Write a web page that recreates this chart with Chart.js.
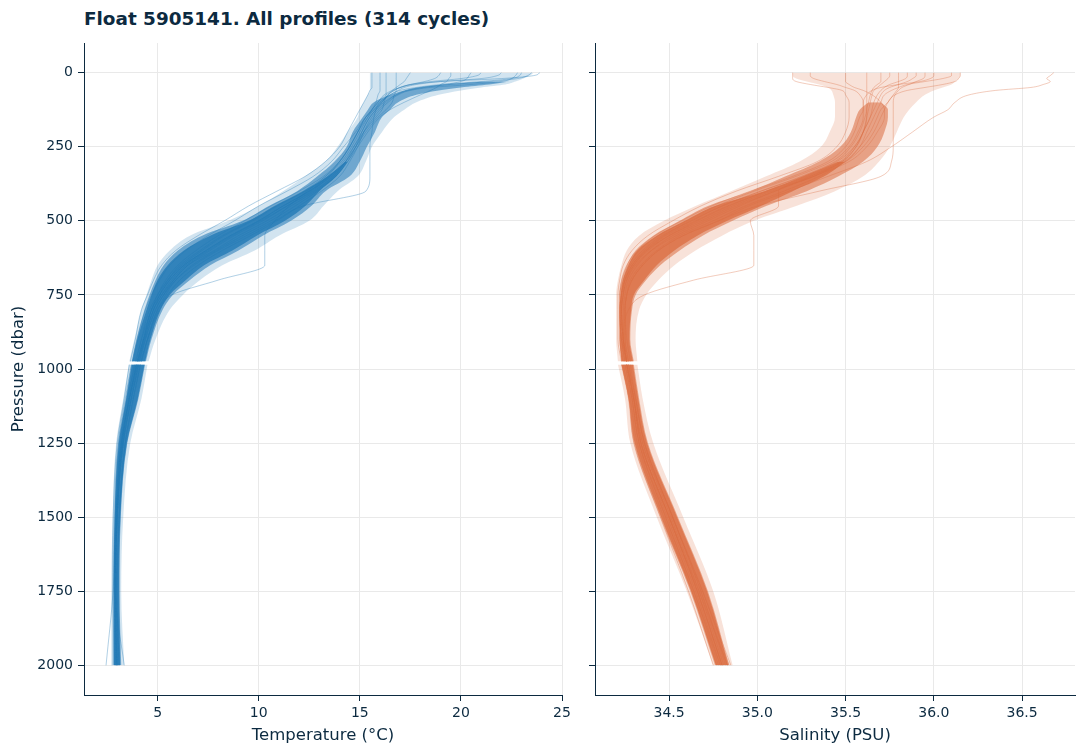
<!DOCTYPE html>
<html>
<head>
<meta charset="utf-8">
<script src="https://cdn.jsdelivr.net/npm/chart.js@4.4.0/dist/chart.umd.min.js"></script>
<style>
  html, body { margin: 0; padding: 0; background: #fff; }
  #wrap { position: relative; width: 1085px; height: 755px; }
  #title { position: absolute; left: 84px; top: 10px; font: bold 18.4px "DejaVu Sans"; line-height: 18px; color: #0c2a40; white-space: nowrap; }
  canvas { position: absolute; top: 0; }
</style>
</head>
<body>
<div id="wrap">
  <div id="title">Float 5905141. All profiles (314 cycles)</div>
  <canvas id="tempChart" style="left:0px;width:575px;height:755px" width="575" height="755"></canvas>
  <canvas id="salChart" style="left:575px;width:510px;height:755px" width="510" height="755"></canvas>
</div>
<script>
// Pressure levels (dbar) the profiles were read at; 980 is the gap in the data.
const pressureLevels = [0, 10, 20, 30, 40, 50, 60, 75, 100, 125, 150, 200, 250, 300, 350, 400, 450, 500, 550, 600,
  650, 700, 750, 800, 900, 975, 980, 985, 1100, 1250, 1500, 1750, 2000];

const pressureTicks = [0, 250, 500, 750, 1000, 1250, 1500, 1750, 2000];
const tempTicks = [5, 10, 15, 20, 25];
const salinityTicks = [34.5, 35.0, 35.5, 36.0, 36.5];

// Temperature (°C), a sample of single cycles
const tempProf01 = [23.5, 23.3, 22.8, 21.5, 19.5, 18.2, 17.4, 16.8, 16.2, 15.8, 15.5, 15.1, 14.8, 14.4, 13.8, 12.8, 11.6, 10.4, 9.0, 7.8, 6.5, 5.8, 5.3, 4.9, 4.4, 4.1, null, 4.05, 3.7, 3.3, 3.0, 2.95, 3.0];
const tempProf02 = [16.0, 16.0, 16.0, 16.0, 16.0, 16.0, 16.0, 15.9, 15.8, 15.6, 15.4, 15.0, 14.6, 14.1, 13.3, 12.2, 10.8, 9.6, 8.2, 7.1, 6.1, 5.5, 5.0, 4.7, 4.2, 3.9, null, 3.85, 3.55, 3.2, 2.95, 2.9, 2.95];
const tempProf03 = [22.0, 21.8, 21.0, 19.0, 17.8, 17.2, 16.9, 16.5, 16.0, 15.7, 15.4, 14.9, 14.5, 14.0, 13.2, 12.0, 10.6, 9.3, 8.0, 6.9, 6.0, 5.4, 5.0, 4.6, 4.2, 3.95, null, 3.9, 3.5, 3.15, 2.9, 2.85, 2.9];
const tempProf04 = [20.5, 20.4, 20.3, 20.0, 19.2, 18.0, 17.3, 16.8, 16.3, 15.9, 15.6, 15.2, 14.9, 14.5, 14.0, 13.1, 12.0, 10.9, 9.6, 8.2, 7.0, 6.1, 5.5, 5.0, 4.5, 4.2, null, 4.15, 3.8, 3.4, 3.1, 3.0, 3.1];
const tempProf05 = [17.5, 17.4, 17.3, 17.2, 17.0, 16.8, 16.6, 16.4, 16.1, 15.7, 15.3, 14.8, 14.2, 13.6, 12.7, 11.4, 10.0, 8.8, 7.5, 6.4, 5.6, 5.1, 4.7, 4.4, 4.0, 3.75, null, 3.7, 3.4, 3.05, 2.85, 2.8, 2.85];
const tempProf06 = [23.0, 22.9, 22.5, 21.0, 19.0, 17.8, 17.0, 16.5, 16.0, 15.8, 15.7, 15.6, 15.5, 15.5, 15.5, 15.3, 12.2, 10.8, 9.4, 8.0, 6.8, 5.9, 5.4, 5.0, 4.5, 4.2, null, 4.15, 3.8, 3.4, 3.1, 3.0, 3.05];
const tempProf07 = [21.0, 20.8, 20.0, 18.5, 17.5, 17.0, 16.7, 16.3, 15.9, 15.6, 15.3, 14.9, 14.5, 14.0, 13.3, 12.4, 11.5, 10.8, 10.3, 10.3, 10.3, 8.0, 5.7, 5.1, 4.5, 4.15, null, 4.1, 3.7, 3.3, 3.0, 2.95, 3.0];
const tempProf08 = [15.6, 15.6, 15.6, 15.6, 15.6, 15.6, 15.5, 15.4, 15.2, 15.0, 14.8, 14.4, 14.0, 13.3, 12.3, 10.9, 9.5, 8.3, 7.0, 5.9, 5.2, 4.8, 4.5, 4.2, 3.9, 3.65, null, 3.6, 3.35, 3.0, 2.8, 2.75, 2.75];
const tempProf09 = [19.0, 18.9, 18.7, 18.2, 17.5, 17.0, 16.6, 16.2, 15.9, 15.6, 15.3, 14.9, 14.5, 14.0, 13.4, 12.5, 11.2, 10.0, 8.6, 7.4, 6.3, 5.6, 5.1, 4.7, 4.3, 4.0, null, 3.95, 3.6, 3.2, 2.95, 2.8, 2.45];
const tempProf10 = [23.9, 23.6, 22.0, 19.0, 17.6, 17.0, 16.7, 16.4, 16.1, 15.8, 15.5, 15.1, 14.7, 14.3, 13.7, 12.7, 11.4, 10.1, 8.7, 7.5, 6.4, 5.7, 5.2, 4.8, 4.35, 4.05, null, 4.0, 3.65, 3.25, 3.0, 2.9, 3.35];
const tempProf11 = [16.8, 16.8, 16.8, 16.8, 16.8, 16.8, 16.8, 16.7, 16.6, 16.3, 15.9, 15.3, 14.8, 14.3, 13.6, 12.5, 11.2, 10.0, 8.6, 7.4, 6.3, 5.6, 5.1, 4.7, 4.3, 4.0, null, 3.95, 3.6, 3.2, 2.95, 2.9, 2.95];
const tempProf12 = [19.5, 19.5, 19.4, 19.3, 19.0, 18.8, 18.5, 18.0, 17.2, 16.5, 16.0, 15.4, 14.9, 14.4, 13.8, 12.9, 11.8, 10.6, 9.2, 7.9, 6.7, 5.9, 5.3, 4.9, 4.4, 4.1, null, 4.05, 3.7, 3.3, 3.0, 2.95, 3.1];
const tempProf13 = [22.8, 22.7, 22.5, 22.0, 20.5, 18.5, 17.5, 16.9, 16.4, 16.0, 15.7, 15.2, 14.8, 14.3, 13.5, 12.3, 10.9, 9.7, 8.3, 7.2, 6.2, 5.5, 5.1, 4.8, 4.35, 4.05, null, 4.0, 3.6, 3.25, 2.95, 2.9, 3.0];
const tempProf14 = [16.3, 16.3, 16.3, 16.3, 16.3, 16.3, 16.3, 16.3, 16.2, 16.1, 15.8, 15.2, 14.7, 14.2, 13.5, 12.6, 11.4, 10.2, 8.8, 7.6, 6.5, 5.8, 5.2, 4.8, 4.3, 4.0, null, 3.95, 3.6, 3.25, 3.0, 2.9, 2.95];

// Temperature envelopes: whole bundle, main core, densest part
const tempOuterLeft = [15.5, 15.5, 15.5, 15.5, 15.5, 15.5, 15.5, 15.4, 15.2, 15.0, 14.9, 14.4, 13.9, 13.3, 12.3, 11.2, 10.0, 8.5, 6.6, 5.6, 5.0, 4.7, 4.45, 4.2, 3.85, 3.6, null, 3.58, 3.3, 2.95, 2.78, 2.75, 2.75];
const tempOuterRight = [23.6, 23.4, 23.1, 22.7, 22.2, 21.0, 20.0, 18.9, 17.8, 17.2, 16.7, 16.1, 15.6, 15.3, 14.9, 13.9, 13.2, 12.5, 11.0, 9.8, 8.2, 7.1, 6.25, 5.6, 4.9, 4.55, null, 4.5, 4.2, 3.65, 3.3, 3.2, 3.35];
const tempCoreLeft = [null, null, null, 21.2, 19.2, 17.9, 17.2, 16.5, 15.7, 15.4, 15.15, 14.65, 14.35, 13.75, 12.9, 11.9, 10.5, 9.2, 7.2, 6.0, 5.3, 4.9, 4.6, 4.35, 3.95, 3.72, null, 3.7, 3.42, 3.05, 2.87, 2.82, 2.82];
const tempCoreRight = [null, null, null, 22.4, 21.4, 20.0, 18.9, 17.8, 16.9, 16.5, 16.1, 15.75, 15.35, 15.0, 14.5, 13.3, 12.6, 11.6, 10.2, 9.0, 7.6, 6.6, 5.75, 5.25, 4.7, 4.42, null, 4.38, 4.05, 3.5, 3.18, 3.12, 3.2];
const tempDenseLeft = [null, null, null, null, null, null, null, null, null, null, null, null, null, 14.3, 13.4, 12.2, 10.8, 9.5, 7.6, 6.3, 5.5, 5.0, 4.7, 4.45, 4.0, 3.75, null, 3.73, 3.45, 3.08, 2.88, 2.83, 2.83];
const tempDenseRight = [null, null, null, null, null, null, null, null, null, null, null, null, null, 14.4, 13.85, 13.0, 12.3, 11.3, 9.9, 8.7, 7.3, 6.4, 5.6, 5.15, 4.65, 4.38, null, 4.35, 4.02, 3.48, 3.16, 3.1, 3.15];

// Salinity (PSU), a sample of single cycles
const salProf01 = [35.85, 35.85, 35.84, 35.8, 35.75, 35.72, 35.7, 35.68, 35.66, 35.65, 35.64, 35.6, 35.56, 35.48, 35.3, 35.1, 34.88, 34.7, 34.52, 34.4, 34.32, 34.27, 34.25, 34.24, 34.24, 34.26, null, 34.26, 34.3, 34.34, 34.5, 34.66, 34.8];
const salProf02 = [35.62, 35.62, 35.62, 35.62, 35.62, 35.62, 35.62, 35.62, 35.62, 35.62, 35.61, 35.58, 35.53, 35.44, 35.25, 35.02, 34.8, 34.63, 34.46, 34.35, 34.28, 34.24, 34.23, 34.22, 34.23, 34.25, null, 34.25, 34.29, 34.33, 34.49, 34.65, 34.79];
const salProf03 = [36.1, 36.1, 36.05, 35.95, 35.85, 35.8, 35.76, 35.72, 35.7, 35.68, 35.66, 35.62, 35.58, 35.5, 35.35, 35.15, 34.93, 34.75, 34.56, 34.43, 34.34, 34.28, 34.26, 34.25, 34.25, 34.27, null, 34.27, 34.3, 34.35, 34.52, 34.68, 34.82];
const salProf04 = [35.3, 35.3, 35.32, 35.38, 35.45, 35.5, 35.55, 35.58, 35.6, 35.6, 35.6, 35.57, 35.52, 35.42, 35.22, 34.98, 34.77, 34.6, 34.44, 34.33, 34.27, 34.24, 34.22, 34.22, 34.22, 34.24, null, 34.24, 34.28, 34.32, 34.47, 34.63, 34.77];
const salProf05 = [36.68, 36.66, 36.64, 36.66, 36.62, 36.55, 36.35, 36.2, 36.12, 36.08, 36.0, 35.88, 35.76, 35.62, 35.4, 35.18, 34.95, 34.78, 34.58, 34.44, 34.35, 34.29, 34.26, 34.25, 34.26, 34.28, null, 34.28, 34.31, 34.36, 34.52, 34.68, 34.83];
const salProf06 = [35.95, 35.95, 35.94, 35.9, 35.86, 35.82, 35.8, 35.78, 35.77, 35.77, 35.77, 35.77, 35.77, 35.76, 35.7, 35.35, 35.0, 34.78, 34.58, 34.44, 34.35, 34.29, 34.26, 34.25, 34.25, 34.27, null, 34.27, 34.31, 34.36, 34.52, 34.69, 34.84];
const salProf07 = [35.75, 35.75, 35.74, 35.72, 35.7, 35.68, 35.66, 35.65, 35.64, 35.63, 35.62, 35.6, 35.56, 35.48, 35.32, 35.12, 35.12, 34.96, 34.98, 34.98, 34.98, 34.64, 34.36, 34.27, 34.24, 34.26, null, 34.26, 34.3, 34.34, 34.5, 34.66, 34.8];
const salProf08 = [35.2, 35.2, 35.2, 35.22, 35.3, 35.4, 35.48, 35.5, 35.52, 35.52, 35.52, 35.5, 35.45, 35.34, 35.12, 34.88, 34.68, 34.52, 34.38, 34.29, 34.24, 34.22, 34.21, 34.21, 34.21, 34.23, null, 34.23, 34.27, 34.3, 34.45, 34.61, 34.75];
const salProf09 = [36.0, 36.0, 35.98, 35.92, 35.8, 35.7, 35.65, 35.62, 35.6, 35.6, 35.58, 35.55, 35.5, 35.4, 35.2, 34.96, 34.74, 34.57, 34.42, 34.32, 34.26, 34.23, 34.22, 34.22, 34.23, 34.25, null, 34.25, 34.29, 34.33, 34.48, 34.64, 34.78];
const salProf10 = [35.7, 35.7, 35.7, 35.7, 35.68, 35.66, 35.65, 35.64, 35.63, 35.62, 35.62, 35.6, 35.55, 35.47, 35.28, 35.05, 34.84, 34.66, 34.5, 34.38, 34.3, 34.25, 34.24, 34.23, 34.24, 34.26, null, 34.26, 34.3, 34.34, 34.5, 34.66, 34.8];
const salProf11 = [35.5, 35.5, 35.5, 35.5, 35.52, 35.55, 35.6, 35.65, 35.7, 35.72, 35.72, 35.68, 35.62, 35.52, 35.32, 35.08, 34.86, 34.68, 34.5, 34.37, 34.29, 34.25, 34.23, 34.22, 34.23, 34.26, null, 34.26, 34.3, 34.34, 34.5, 34.67, 34.83];
const salProf12 = [36.15, 36.15, 36.14, 36.12, 36.05, 35.95, 35.85, 35.78, 35.74, 35.72, 35.7, 35.66, 35.6, 35.5, 35.32, 35.1, 34.9, 34.72, 34.54, 34.4, 34.31, 34.26, 34.24, 34.23, 34.24, 34.26, null, 34.27, 34.31, 34.36, 34.52, 34.69, 34.85];
const salProf13 = [35.9, 35.9, 35.88, 35.85, 35.8, 35.75, 35.72, 35.7, 35.68, 35.66, 35.64, 35.6, 35.55, 35.45, 35.26, 35.02, 34.8, 34.62, 34.47, 34.36, 34.29, 34.25, 34.23, 34.23, 34.24, 34.26, null, 34.26, 34.29, 34.33, 34.48, 34.64, 34.79];
const salProf14 = [35.8, 35.8, 35.8, 35.8, 35.8, 35.8, 35.79, 35.77, 35.74, 35.7, 35.68, 35.64, 35.58, 35.49, 35.3, 35.06, 34.83, 34.65, 34.48, 34.37, 34.3, 34.26, 34.24, 34.23, 34.24, 34.26, null, 34.26, 34.3, 34.35, 34.51, 34.67, 34.81];

// Salinity envelopes: whole bundle, main core, densest part
const salOuterLeft = [35.2, 35.2, 35.22, 35.28, 35.35, 35.4, 35.42, 35.43, 35.44, 35.44, 35.44, 35.41, 35.36, 35.24, 35.05, 34.85, 34.65, 34.47, 34.33, 34.26, 34.23, 34.21, 34.2, 34.2, 34.2, 34.21, null, 34.21, 34.25, 34.28, 34.43, 34.6, 34.75];
const salOuterRight = [36.15, 36.15, 36.14, 36.12, 36.1, 36.05, 36.0, 35.95, 35.9, 35.86, 35.83, 35.79, 35.75, 35.69, 35.6, 35.44, 35.22, 34.98, 34.8, 34.65, 34.53, 34.44, 34.37, 34.33, 34.31, 34.32, null, 34.32, 34.35, 34.41, 34.58, 34.75, 34.86];
const salCoreLeft = [null, null, null, null, null, null, null, null, 35.63, 35.58, 35.56, 35.53, 35.47, 35.35, 35.16, 34.96, 34.72, 34.56, 34.41, 34.31, 34.26, 34.23, 34.22, 34.22, 34.22, 34.23, null, 34.23, 34.27, 34.3, 34.45, 34.62, 34.76];
const salCoreRight = [null, null, null, null, null, null, null, null, 35.7, 35.74, 35.74, 35.72, 35.68, 35.6, 35.46, 35.28, 35.05, 34.86, 34.69, 34.56, 34.45, 34.37, 34.31, 34.29, 34.28, 34.3, null, 34.3, 34.33, 34.38, 34.55, 34.72, 34.84];
const salDenseLeft = [null, null, null, null, null, null, null, null, null, null, null, null, null, 35.46, 35.26, 35.04, 34.76, 34.59, 34.43, 34.32, 34.27, 34.24, 34.225, 34.22, 34.22, 34.23, null, 34.23, 34.27, 34.305, 34.455, 34.625, 34.765];
const salDenseRight = [null, null, null, null, null, null, null, null, null, null, null, null, null, 35.5, 35.38, 35.2, 35.02, 34.83, 34.66, 34.53, 34.43, 34.36, 34.3, 34.285, 34.275, 34.295, null, 34.295, 34.325, 34.375, 34.545, 34.715, 34.835];

const tempProfiles = [tempProf01, tempProf02, tempProf03, tempProf04, tempProf05, tempProf06, tempProf07,
  tempProf08, tempProf09, tempProf10, tempProf11, tempProf12, tempProf13, tempProf14];
const salProfiles = [salProf01, salProf02, salProf03, salProf04, salProf05, salProf06, salProf07,
  salProf08, salProf09, salProf10, salProf11, salProf12, salProf13, salProf14];

const NAVY = '#0c2a40';
const GRID = '#e9e9e9';
const FONT = 'DejaVu Sans';

function toPoints(values) {
  return values.map((v, i) => ({x: v, y: pressureLevels[i]}));
}

// A filled band between two edges; order sets what is painted first
function band(left, right, color, order) {
  return [
    {data: toPoints(left), borderColor: 'transparent', borderWidth: 0, pointRadius: 0,
      backgroundColor: color, fill: '+1', order: order},
    {data: toPoints(right), borderColor: 'transparent', borderWidth: 0, pointRadius: 0, fill: false, order: order}
  ];
}

function buildDatasets(profiles, bands, rgb) {
  let sets = [];
  profiles.forEach(vals => {
    sets.push({data: toPoints(vals), borderColor: `rgba(${rgb},0.35)`, borderWidth: 1,
      pointRadius: 0, fill: false, order: 1});
  });
  sets = sets.concat(band(bands.denseL, bands.denseR, `rgba(${rgb},0.75)`, 2));
  sets = sets.concat(band(bands.coreL, bands.coreR, `rgba(${rgb},0.55)`, 3));
  sets = sets.concat(band(bands.outerL, bands.outerR, `rgba(${rgb},0.2)`, 4));
  return sets;
}

function axisBase() {
  return {
    type: 'linear',
    grid: {color: GRID, lineWidth: 1, tickColor: NAVY, tickLength: 6},
    border: {color: NAVY, width: 1},
    ticks: {color: NAVY, font: {family: FONT, size: 14}}
  };
}

function makeChart(id, opts) {
  const x = axisBase();
  x.min = opts.xMin;
  x.max = opts.xMax;
  x.position = 'bottom';
  x.afterBuildTicks = s => { s.ticks = opts.xTicks.map(v => ({value: v})); };
  x.ticks.padding = 4;
  x.ticks.callback = opts.xFormat;
  x.title = {display: true, text: opts.xTitle, color: NAVY, font: {family: FONT, size: 16.5},
    padding: {top: 0, bottom: 9}};
  x.afterFit = s => { s.height = 60; };

  const y = axisBase();
  y.min = -100;
  y.max = 2100;
  y.reverse = true;
  y.position = 'left';
  y.afterBuildTicks = s => { s.ticks = pressureTicks.map(v => ({value: v})); };
  y.ticks.padding = 5;
  y.ticks.callback = v => String(v);
  y.ticks.display = opts.showY;
  if (opts.showY) {
    y.title = {display: true, text: 'Pressure (dbar)', color: NAVY, font: {family: FONT, size: 16.5},
      padding: {top: 9, bottom: 0}};
  }
  y.afterFit = s => { s.width = opts.yWidth; };

  return new Chart(document.getElementById(id), {
    type: 'line',
    data: {datasets: opts.datasets},
    options: {
      indexAxis: 'y',
      responsive: false,
      animation: false,
      layout: {padding: {top: 43, right: opts.padRight, bottom: 0, left: 0}},
      plugins: {legend: {display: false}, tooltip: {enabled: false}},
      elements: {line: {cubicInterpolationMode: 'monotone'}},
      scales: {x: x, y: y}
    }
  });
}

makeChart('tempChart', {
  datasets: buildDatasets(tempProfiles, {
    outerL: tempOuterLeft, outerR: tempOuterRight,
    coreL: tempCoreLeft, coreR: tempCoreRight,
    denseL: tempDenseLeft, denseR: tempDenseRight
  }, '31,119,180'),
  xMin: 1.36, xMax: 25.0, xTicks: tempTicks, xFormat: v => String(v),
  xTitle: 'Temperature (°C)', showY: true, yWidth: 84, padRight: 13
});

makeChart('salChart', {
  datasets: buildDatasets(salProfiles, {
    outerL: salOuterLeft, outerR: salOuterRight,
    coreL: salCoreLeft, coreR: salCoreRight,
    denseL: salDenseLeft, denseR: salDenseRight
  }, '219,109,65'),
  xMin: 34.08, xMax: 36.8, xTicks: salinityTicks, xFormat: v => v.toFixed(1),
  xTitle: 'Salinity (PSU)', showY: false, yWidth: 20, padRight: 10
});
</script>
</body>
</html>
